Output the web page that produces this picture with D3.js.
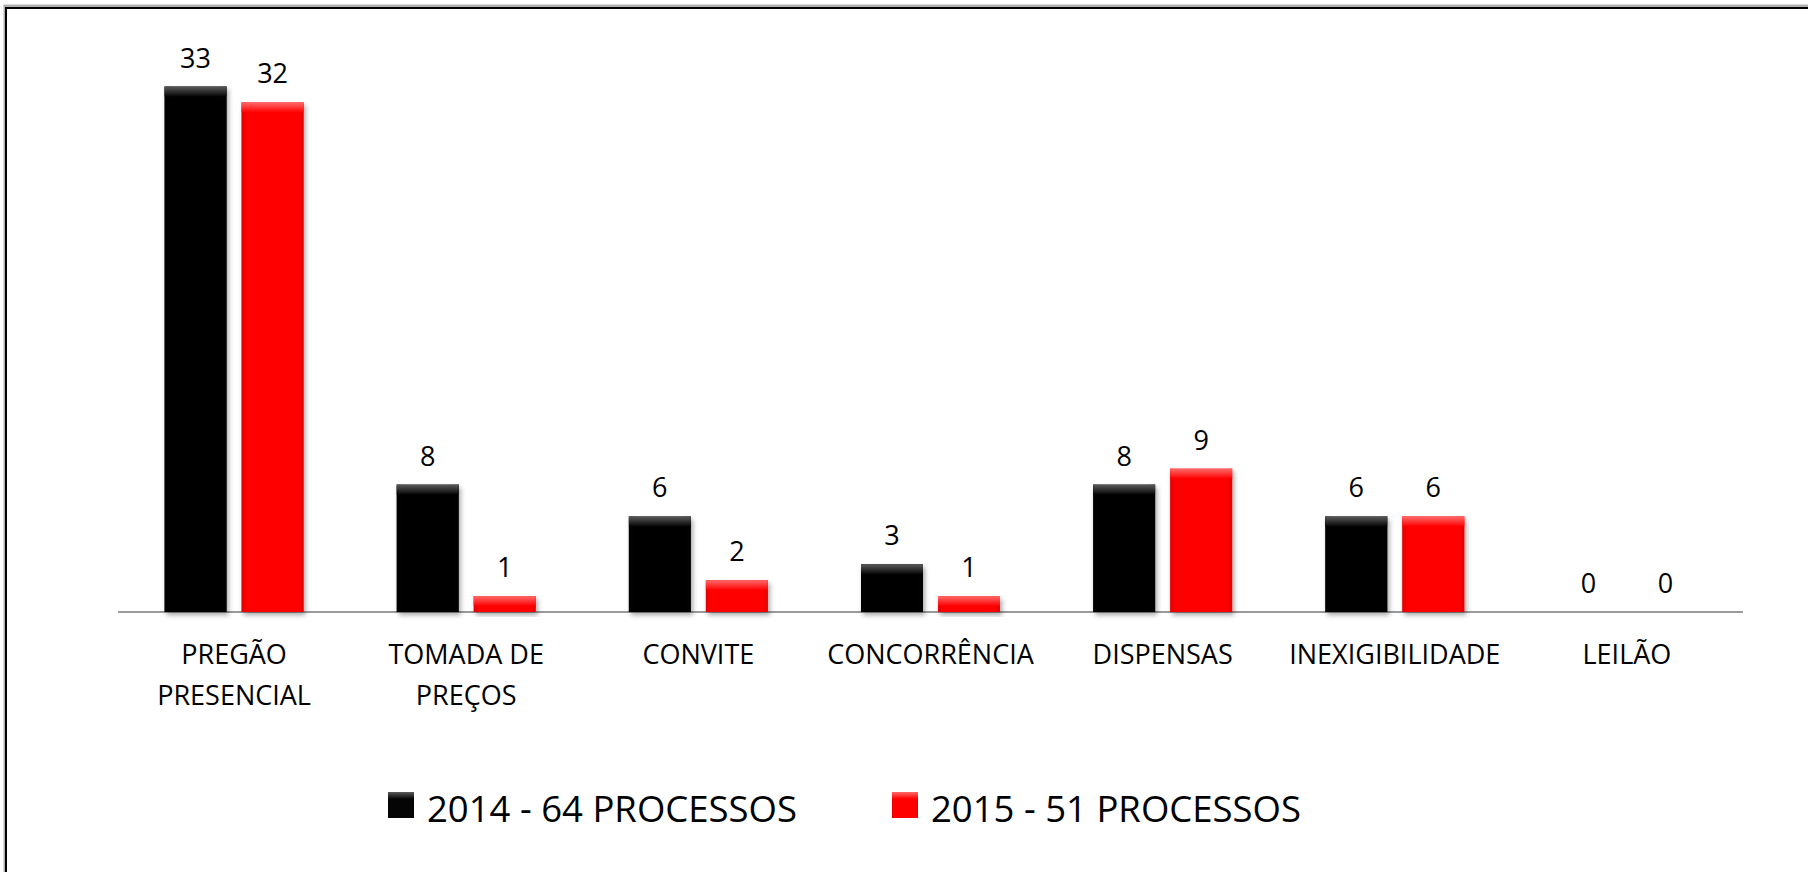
<!DOCTYPE html>
<html>
<head>
<meta charset="utf-8">
<script src="https://cdn.jsdelivr.net/npm/d3@7"></script>
<style>
  html, body { margin: 0; padding: 0; background: #fff; overflow: hidden; }
  svg { display: block; }
  svg text { font-family: "Open Sans", "Noto Sans", sans-serif; fill: #000; }
</style>
</head>
<body>
<div id="chart"></div>
<script>
const categories = [
  ["PREGÃO", "PRESENCIAL"],
  ["TOMADA DE", "PREÇOS"],
  ["CONVITE"],
  ["CONCORRÊNCIA"],
  ["DISPENSAS"],
  ["INEXIGIBILIDADE"],
  ["LEILÃO"]
];
const series = ["2014 - 64 PROCESSOS", "2015 - 51 PROCESSOS"];
const values2014 = [33, 8, 6, 3, 8, 6, 0];
const values2015 = [32, 1, 2, 1, 9, 6, 0];

const width = 1808, height = 872;

const colors = {
  "2014 - 64 PROCESSOS": { base: "#050505", light: "#5a5a5a", dark: "#000" },
  "2015 - 51 PROCESSOS": { base: "#ff0000", light: "#ff6a6a", dark: "#c80000" }
};

const svg = d3.select("#chart").append("svg")
  .attr("width", width)
  .attr("height", height);

const defs = svg.append("defs");

const shadow = defs.append("filter").attr("id", "shadow")
  .attr("x", "-20%").attr("y", "-20%").attr("width", "150%").attr("height", "150%");
shadow.append("feDropShadow")
  .attr("dx", 2).attr("dy", 3).attr("stdDeviation", 2.5)
  .attr("flood-color", "#000").attr("flood-opacity", 0.35);

series.forEach((s, i) => {
  const c = colors[s];
  const top = defs.append("linearGradient").attr("id", `top${i}`)
    .attr("x1", 0).attr("y1", 0).attr("x2", 0).attr("y2", 1);
  top.append("stop").attr("offset", "0%").attr("stop-color", c.light);
  top.append("stop").attr("offset", "100%").attr("stop-color", c.base);
  const side = defs.append("linearGradient").attr("id", `side${i}`)
    .attr("x1", 0).attr("y1", 0).attr("x2", 1).attr("y2", 0);
  side.append("stop").attr("offset", "0%").attr("stop-color", c.dark).attr("stop-opacity", 0.6);
  side.append("stop").attr("offset", "12%").attr("stop-color", c.base).attr("stop-opacity", 0);
  side.append("stop").attr("offset", "88%").attr("stop-color", c.base).attr("stop-opacity", 0);
  side.append("stop").attr("offset", "100%").attr("stop-color", c.dark).attr("stop-opacity", 0.6);
});

// outer frame: only the top and left edges are inside the picture
svg.append("path")
  .attr("d", `M5,${height + 10}V6H${width + 10}`)
  .attr("fill", "none")
  .attr("stroke", "#b0b0b0").attr("stroke-width", 3);
svg.append("path")
  .attr("d", `M6,${height + 10}V8H${width + 10}`)
  .attr("fill", "none")
  .attr("stroke", "#000").attr("stroke-width", 2);

const x0 = d3.scaleBand()
  .domain(d3.range(categories.length))
  .range([118, 1743]);

const x1 = d3.scaleBand()
  .domain(series)
  .range([x0.bandwidth() / 2 - 69.5, x0.bandwidth() / 2 + 69.5])
  .paddingInner(0.195);

const y = d3.scaleLinear()
  .domain([0, 33])
  .range([612, 86.5]);

const data = categories.map((c, i) => ({
  idx: i,
  lines: c,
  vals: [
    { key: series[0], s: 0, v: values2014[i] },
    { key: series[1], s: 1, v: values2015[i] }
  ]
}));

// axis line
svg.append("line")
  .attr("x1", x0.range()[0]).attr("x2", x0.range()[1])
  .attr("y1", y(0)).attr("y2", y(0))
  .attr("stroke", "#9a9a9a").attr("stroke-width", 2);

const group = svg.append("g").selectAll("g")
  .data(data)
  .join("g")
  .attr("transform", d => `translate(${x0(d.idx)},0)`);

const bar = group.selectAll("g.bar")
  .data(d => d.vals.filter(v => v.v > 0))
  .join("g")
  .attr("class", "bar");

bar.append("rect")
  .attr("x", d => x1(d.key))
  .attr("y", d => y(d.v))
  .attr("width", x1.bandwidth())
  .attr("height", d => y(0) - y(d.v))
  .attr("fill", d => colors[d.key].base)
  .attr("filter", "url(#shadow)");

bar.append("rect")
  .attr("x", d => x1(d.key))
  .attr("y", d => y(d.v))
  .attr("width", x1.bandwidth())
  .attr("height", d => y(0) - y(d.v))
  .attr("fill", d => `url(#side${d.s})`);

bar.append("rect")
  .attr("x", d => x1(d.key))
  .attr("y", d => y(d.v))
  .attr("width", x1.bandwidth())
  .attr("height", d => Math.min(10, y(0) - y(d.v)))
  .attr("fill", d => `url(#top${d.s})`);

// value labels
group.selectAll("text.val")
  .data(d => d.vals)
  .join("text")
  .attr("class", "val")
  .attr("x", d => x1(d.key) + x1.bandwidth() / 2)
  .attr("y", d => y(d.v) - 19)
  .attr("text-anchor", "middle")
  .style("font-size", "27px")
  .text(d => d.v);

// category labels
group.append("text")
  .attr("class", "cat")
  .attr("text-anchor", "middle")
  .style("font-size", "27px")
  .selectAll("tspan")
  .data(d => d.lines)
  .join("tspan")
  .attr("x", x0.bandwidth() / 2)
  .attr("y", (d, i) => 664 + i * 41)
  .text(d => d);

// legend
const legend = svg.append("g").selectAll("g")
  .data(series)
  .join("g")
  .attr("transform", (d, i) => `translate(${388 + i * 504},792)`);

legend.append("rect")
  .attr("width", 26).attr("height", 26)
  .attr("fill", d => colors[d].base);
legend.append("rect")
  .attr("width", 26).attr("height", 26)
  .attr("fill", (d, i) => `url(#side${i})`);
legend.append("rect")
  .attr("width", 26).attr("height", 7)
  .attr("fill", (d, i) => `url(#top${i})`);

legend.append("text")
  .attr("x", 39)
  .attr("y", 30)
  .style("font-size", "36.5px")
  .text(d => d);
</script>
</body>
</html>
